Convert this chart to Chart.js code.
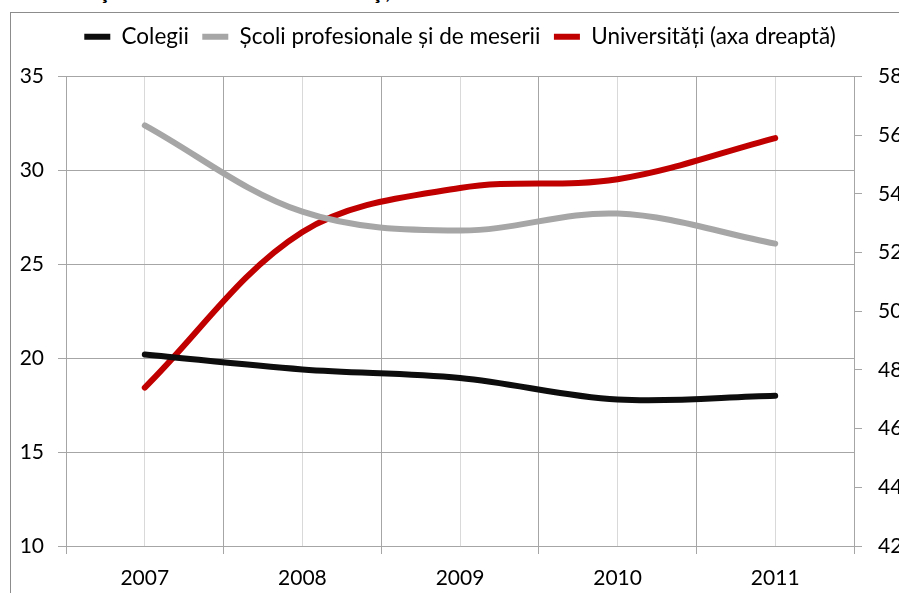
<!DOCTYPE html>
<html>
<head>
<meta charset="utf-8">
<script src="https://cdn.jsdelivr.net/npm/chart.js@4.4.1/dist/chart.umd.min.js"></script>
<style>
  html, body { margin: 0; padding: 0; background: #fff; overflow: hidden; width: 899px; height: 593px; }
  #frame { position: absolute; left: 10px; top: 12px; width: 1000px; height: 1000px; border: 1px solid #8c8c8c; }
  #title { position: absolute; left: 8px; top: -22px; font: bold 21px Lato, sans-serif; color: #000; white-space: nowrap; }
  #wrap { position: absolute; left: 0; top: 0; width: 920px; height: 593px; }
</style>
</head>
<body>
<div id="title">universităţi din totalul celor înmatriculaţi, %</div>
<div id="frame"></div>
<div id="wrap"><canvas id="chart"></canvas></div>
<script>
// date
const years = ['2007', '2008', '2009', '2010', '2011'];
const colegii = [20.2, 19.4, 18.95, 17.8, 18.0];
const scoliProfesionale = [32.4, 27.8, 26.8, 27.7, 26.1];
const universitati = [47.4, 52.7, 54.2, 54.5, 55.9];

const leftTicks = { min: 10, max: 35, step: 5 };
const rightTicks = { min: 42, max: 58, step: 2 };

const FONT = 'Lato, sans-serif';
const GRID = '#a6a6a6';
const GRID_LIGHT = '#d9d9d9';

const lineStyle = {
  borderWidth: 6,
  borderCapStyle: 'round',
  pointRadius: 0,
  pointHoverRadius: 0,
  tension: 0.35,
  fill: false
};

// spatiu suplimentar sub legenda
const legendGap = {
  id: 'legendGap',
  beforeLayout(chart) {
    const legend = chart.legend;
    if (legend && !legend._gapPatched) {
      const origFit = legend.fit;
      legend.fit = function() {
        origFit.call(this);
        this.height += 18.5;
      };
      legend._gapPatched = true;
    }
  }
};

new Chart(document.getElementById('chart'), {
  type: 'line',
  data: {
    labels: years,
    datasets: [
      Object.assign({ label: 'Colegii', data: colegii, borderColor: '#0d0d0d', backgroundColor: '#0d0d0d', yAxisID: 'y' }, lineStyle),
      Object.assign({ label: 'Școli profesionale și de meserii', data: scoliProfesionale, borderColor: '#a6a6a6', backgroundColor: '#a6a6a6', yAxisID: 'y' }, lineStyle),
      Object.assign({ label: 'Universități (axa dreaptă)', data: universitati, borderColor: '#c00000', backgroundColor: '#c00000', yAxisID: 'y2' }, lineStyle)
    ]
  },
  plugins: [legendGap],
  options: {
    responsive: true,
    maintainAspectRatio: false,
    animation: false,
    layout: { padding: { top: 12, left: 0, right: 0, bottom: 0 } },
    plugins: {
      tooltip: { enabled: false },
      legend: {
        position: 'top',
        align: 'center',
        labels: {
          usePointStyle: true,
          pointStyle: 'line',
          pointStyleWidth: 26,
          padding: 13.5,
          color: '#000',
          font: { family: FONT, size: 22.5 }
        }
      }
    },
    scales: {
      x: {
        type: 'category',
        offset: true,
        grid: { offset: true, color: GRID, tickLength: 8, drawTicks: true },
        border: { color: GRID },
        ticks: { color: '#000', padding: 12, font: { family: FONT, size: 21 } },
        afterFit(scale) { scale.height = 47; }
      },
      xc: {
        type: 'category',
        offset: true,
        position: 'bottom',
        grid: { offset: false, color: GRID_LIGHT, drawTicks: false },
        border: { display: false },
        ticks: { display: false },
        afterFit(scale) { scale.height = 0; }
      },
      y: {
        position: 'left',
        min: leftTicks.min,
        max: leftTicks.max,
        grid: { color: GRID, tickLength: 8 },
        border: { color: GRID },
        ticks: { stepSize: leftTicks.step, color: '#000', padding: 14, font: { family: FONT, size: 21 } },
        afterFit(scale) { scale.width = 66; }
      },
      y2: {
        position: 'right',
        min: rightTicks.min,
        max: rightTicks.max,
        grid: { drawOnChartArea: false, color: GRID, tickLength: 8 },
        border: { color: GRID },
        ticks: { stepSize: rightTicks.step, color: '#000', padding: 16, font: { family: FONT, size: 21 } },
        afterFit(scale) { scale.width = 66; }
      }
    }
  }
});
</script>
</body>
</html>
